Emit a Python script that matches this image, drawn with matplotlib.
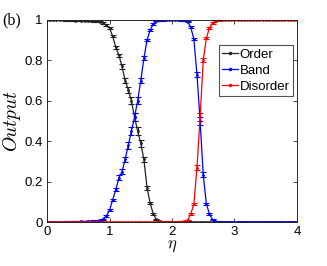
import matplotlib.pyplot as plt
from matplotlib.lines import Line2D
import numpy as np

plt.rcParams['font.family'] = ['Liberation Sans', 'DejaVu Sans']
plt.rcParams['mathtext.fontset'] = 'cm'
plt.rcParams['font.size'] = 9.5

eta = np.linspace(0, 4, 81)

order = [1.0, 1.0, 1.0, 1.0, 1.0, 1.0, 0.999, 0.999, 0.998, 0.997,
         0.998, 0.996, 0.997, 0.995, 0.996, 0.994, 0.993, 0.99, 0.985, 0.975,
         0.96, 0.92, 0.865, 0.825, 0.77, 0.70, 0.655, 0.60, 0.52, 0.45,
         0.39, 0.31, 0.17, 0.095, 0.04, 0.013, 0.004, 0.002, 0.001, 0.001,
         0.0, 0.0, 0.0, 0.0, 0.0, 0.0, 0.0, 0.0, 0.0, 0.0,
         0.0, 0.0, 0.0, 0.0, 0.0, 0.0, 0.0, 0.0, 0.0, 0.0,
         0.0, 0.0, 0.0, 0.0, 0.0, 0.0, 0.0, 0.0, 0.0, 0.0,
         0.0, 0.0, 0.0, 0.0, 0.0, 0.0, 0.0, 0.0, 0.0, 0.0, 0.0]

band = [0.0, 0.0, 0.0, 0.0, 0.0, 0.0, 0.001, 0.001, 0.002, 0.003,
        0.002, 0.004, 0.003, 0.005, 0.004, 0.006, 0.007, 0.01, 0.015, 0.03,
        0.06, 0.11, 0.16, 0.22, 0.25, 0.31, 0.38, 0.45, 0.52, 0.60,
        0.70, 0.81, 0.90, 0.95, 0.98, 0.995, 0.998, 0.999, 1.0, 1.0,
        1.0, 1.0, 1.0, 0.999, 0.998, 0.99, 0.965, 0.905, 0.73, 0.50,
        0.235, 0.09, 0.04, 0.012, 0.003, 0.001, 0.0, 0.0, 0.0, 0.0,
        0.0, 0.0, 0.0, 0.0, 0.0, 0.0, 0.0, 0.0, 0.0, 0.0,
        0.0, 0.0, 0.0, 0.0, 0.0, 0.0, 0.0, 0.0, 0.0, 0.0, 0.0]

disorder = [0.0, 0.0, 0.0, 0.0, 0.0, 0.0, 0.0, 0.0, 0.0, 0.0,
            0.0, 0.0, 0.0, 0.0, 0.0, 0.0, 0.0, 0.0, 0.0, 0.0,
            0.0, 0.0, 0.0, 0.0, 0.0, 0.0, 0.0, 0.0, 0.0, 0.0,
            0.0, 0.0, 0.0, 0.0, 0.0, 0.0, 0.0, 0.0, 0.0, 0.0,
            0.0, 0.0, 0.001, 0.002, 0.004, 0.01, 0.04, 0.09, 0.27, 0.52,
            0.80, 0.91, 0.96, 0.985, 0.997, 0.999, 1.0, 1.0, 1.0, 1.0,
            1.0, 1.0, 1.0, 1.0, 1.0, 1.0, 1.0, 1.0, 1.0, 1.0,
            1.0, 1.0, 1.0, 1.0, 1.0, 1.0, 1.0, 1.0, 1.0, 1.0, 1.0]

order_err = [0.04 * min(v, 1 - v) + 0.002 for v in order]
band_err = [0.04 * min(v, 1 - v) + 0.002 for v in band]
disorder_err = [0.04 * min(v, 1 - v) + 0.002 for v in disorder]

fig, ax = plt.subplots(figsize=(3.27, 2.66), dpi=100)
fig.subplots_adjust(left=0.144, right=0.908, bottom=0.165, top=0.925)

series = [(order, order_err, '#222222', 'Order'),
          (band, band_err, '#0000ff', 'Band'),
          (disorder, disorder_err, '#ff0000', 'Disorder')]
handles = []
for vals, err, col, lab in series:
    ax.errorbar(eta, vals, yerr=err, color=col, marker='.', markersize=2,
                linewidth=0.9, elinewidth=0.8, capsize=2, capthick=0.8)
    handles.append(Line2D([], [], color=col, marker='.', markersize=3,
                          linewidth=0.9, label=lab))

ax.set_xlim(0, 4)
ax.set_ylim(0, 1)
ax.set_xticks([0, 1, 2, 3, 4])
ax.set_yticks([0, 0.2, 0.4, 0.6, 0.8, 1])
ax.set_yticklabels(['0', '0.2', '0.4', '0.6', '0.8', '1'])
ax.tick_params(direction='in', top=True, right=True, length=3, width=0.6,
               colors='#262626', labelcolor='black', pad=3)
for s in ax.spines.values():
    s.set_color('#262626')
    s.set_linewidth(0.7)

ax.set_xlabel(r'$\eta$', fontsize=12, labelpad=0)
ax.set_ylabel(r'$Output$', fontsize=14, labelpad=1)
fig.text(0.008, 0.925, '(b)', family='Liberation Serif', fontsize=11.5, va='center')

leg = ax.legend(handles=handles, loc='upper right', bbox_to_anchor=(0.984, 0.876),
                fancybox=False, edgecolor='#262626', borderpad=0.25,
                handlelength=1.15, handletextpad=0.15, labelspacing=0.3,
                borderaxespad=0, fontsize=9.5)
leg.get_frame().set_linewidth(0.8)

plt.savefig('out.png', dpi=100)
